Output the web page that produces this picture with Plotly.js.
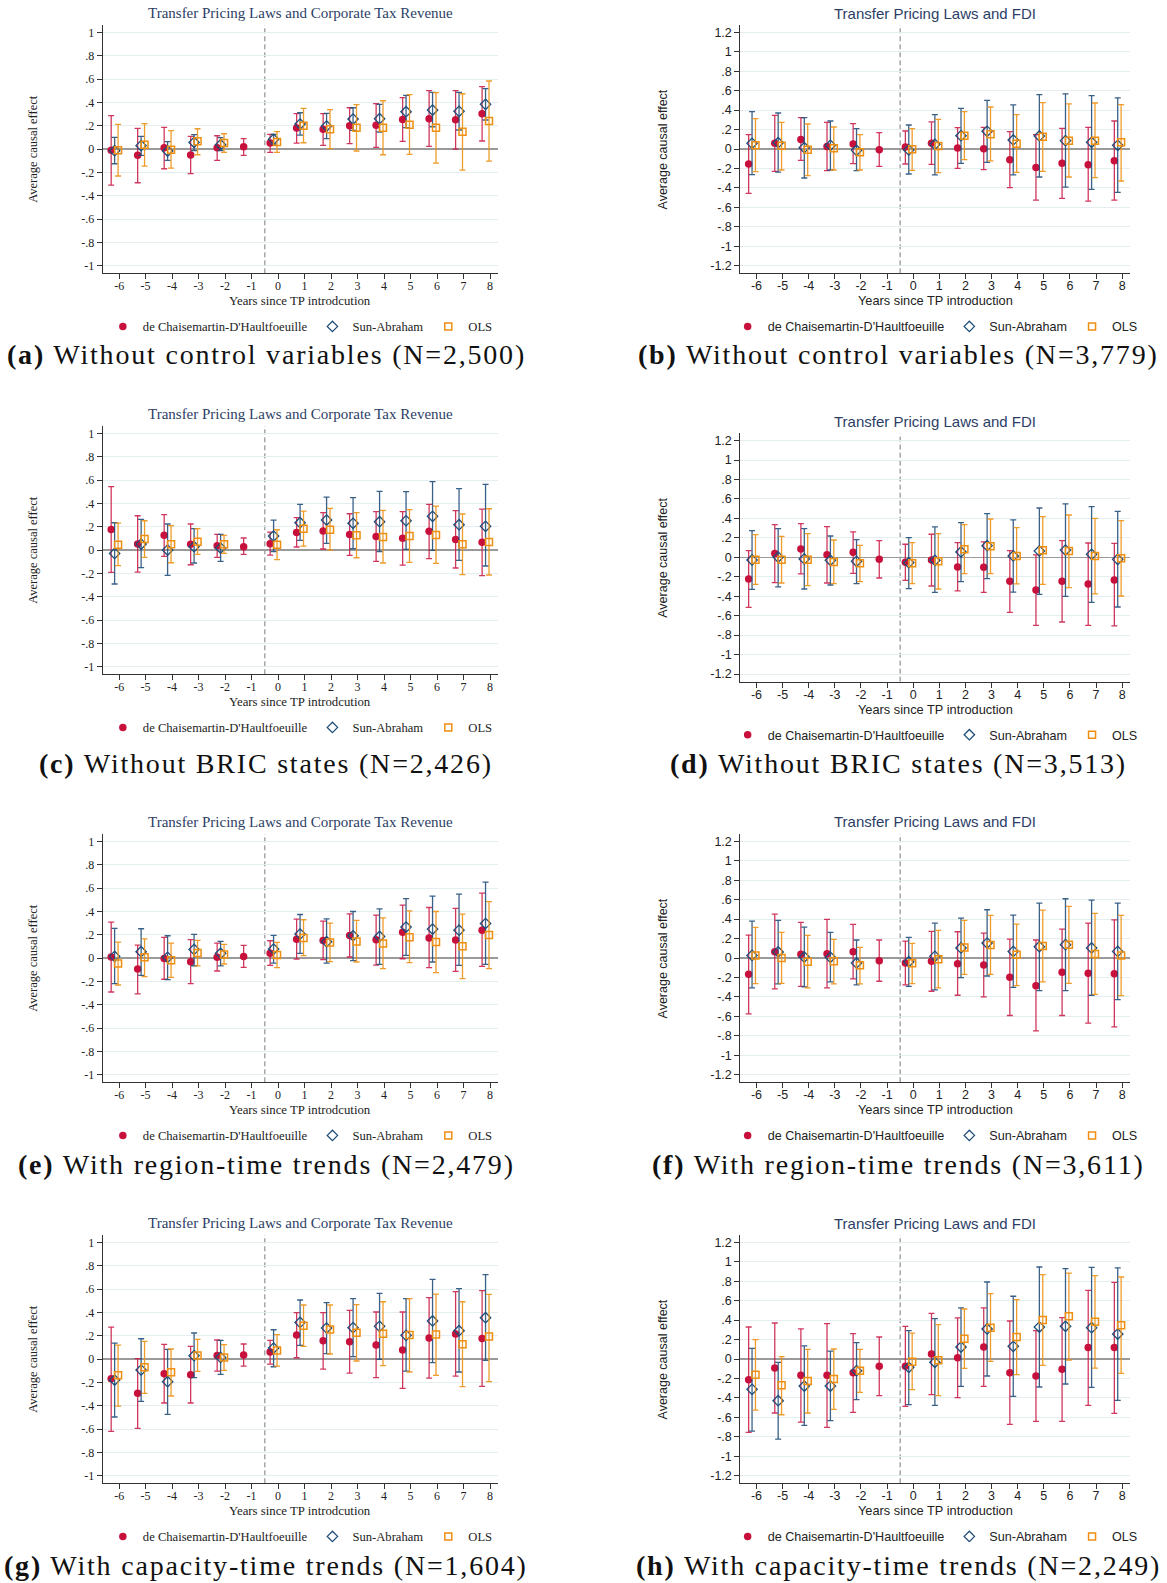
<!DOCTYPE html>
<html><head><meta charset="utf-8">
<script src="https://cdn.plot.ly/plotly-3.0.1.min.js"></script>
<style>html,body{margin:0;padding:0;background:#fff}#chart{width:1167px;height:1583px}</style>
</head><body><div id="chart"></div>
<script>
// ---------------- DATA ----------------
const yearsDCDH = [-6,-5,-4,-3,-2,-1,0,1,2,3,4,5,6,7,8];
const yearsOther = [-6,-5,-4,-3,-2,0,1,2,3,4,5,6,7,8];
const xTickText = ['-6','-5','-4','-3','-2','-1','0','1','2','3','4','5','6','7','8'];
const taxTicks = [-1,-0.8,-0.6,-0.4,-0.2,0,0.2,0.4,0.6,0.8,1];
const taxTickText = ['-1','-.8','-.6','-.4','-.2','0','.2','.4','.6','.8','1'];
const fdiTicks = [-1.2,-1,-0.8,-0.6,-0.4,-0.2,0,0.2,0.4,0.6,0.8,1,1.2];
const fdiTickText = ['-1.2','-1','-.8','-.6','-.4','-.2','0','.2','.4','.6','.8','1','1.2'];
const seriesNames = ["de Chaisemartin-D'Haultfoeuille", 'Sun-Abraham', 'OLS'];
const taxTitle = 'Transfer Pricing Laws and Corporate Tax Revenue';
const fdiTitle = 'Transfer Pricing Laws and FDI';
const taxXTitle = 'Years since TP introdcution';
const fdiXTitle = 'Years since TP introduction';
const yTitle = 'Average causal effect';
const treatmentLine = -0.5;

// (a)
const a_dcdh_est = [-0.01,-0.054,0.011,-0.051,0.011,0.02,0.051,0.18,0.169,0.2,0.203,0.254,0.26,0.251,0.303];
const a_dcdh_lo = [-0.31,-0.289,-0.169,-0.211,-0.097,-0.054,-0.029,0.051,0.031,0.046,0.014,0.066,0.023,0.0,0.069];
const a_dcdh_hi = [0.286,0.177,0.186,0.109,0.114,0.089,0.126,0.303,0.303,0.354,0.389,0.44,0.5,0.5,0.534];
const a_sa_est = [-0.014,0.029,-0.017,0.057,0.037,0.083,0.214,0.197,0.257,0.26,0.32,0.334,0.323,0.383];
const a_sa_lo = [-0.126,-0.054,-0.097,-0.014,-0.014,0.043,0.12,0.089,0.16,0.146,0.183,0.191,0.163,0.249];
const a_sa_hi = [0.1,0.109,0.063,0.123,0.097,0.126,0.311,0.306,0.354,0.383,0.46,0.486,0.486,0.517];
const a_ols_est = [-0.011,0.037,-0.006,0.066,0.051,0.06,0.2,0.169,0.183,0.183,0.209,0.183,0.149,0.24];
const a_ols_lo = [-0.231,-0.146,-0.163,-0.049,-0.029,-0.029,0.054,0.003,-0.017,-0.049,-0.046,-0.12,-0.18,-0.103];
const a_ols_hi = [0.211,0.217,0.157,0.174,0.131,0.149,0.349,0.337,0.38,0.414,0.466,0.483,0.474,0.583];
// (b)
const b_dcdh_est = [-0.154,0.058,0.099,0.027,0.051,-0.007,0.021,0.058,0.01,0.003,-0.11,-0.189,-0.147,-0.161,-0.12];
const b_dcdh_lo = [-0.456,-0.23,-0.117,-0.223,-0.151,-0.178,-0.154,-0.158,-0.199,-0.213,-0.398,-0.525,-0.507,-0.535,-0.525];
const b_dcdh_hi = [0.147,0.346,0.322,0.274,0.26,0.168,0.185,0.278,0.219,0.223,0.178,0.147,0.213,0.223,0.288];
const b_sa_est = [0.058,0.065,0.014,0.038,-0.014,-0.01,0.048,0.137,0.182,0.093,0.134,0.086,0.069,0.038];
const b_sa_lo = [-0.264,-0.237,-0.298,-0.216,-0.223,-0.257,-0.267,-0.147,-0.137,-0.267,-0.288,-0.391,-0.415,-0.446];
const b_sa_hi = [0.384,0.37,0.322,0.288,0.209,0.247,0.353,0.418,0.5,0.453,0.559,0.566,0.549,0.525];
const b_ols_est = [0.038,0.034,-0.007,0.007,-0.034,-0.003,0.031,0.137,0.151,0.055,0.127,0.086,0.086,0.069];
const b_ols_lo = [-0.233,-0.216,-0.274,-0.216,-0.216,-0.219,-0.243,-0.11,-0.123,-0.24,-0.23,-0.288,-0.295,-0.329];
const b_ols_hi = [0.312,0.274,0.257,0.226,0.147,0.209,0.305,0.384,0.432,0.353,0.477,0.463,0.473,0.456];
// (c)
const c_dcdh_est = [0.177,0.051,0.126,0.049,0.037,0.029,0.054,0.151,0.163,0.134,0.117,0.1,0.16,0.091,0.066];
const c_dcdh_lo = [-0.191,-0.189,-0.054,-0.126,-0.063,-0.037,-0.043,0.026,0.009,-0.046,-0.097,-0.129,-0.074,-0.154,-0.22];
const c_dcdh_hi = [0.543,0.294,0.303,0.223,0.134,0.103,0.154,0.277,0.32,0.311,0.329,0.329,0.391,0.337,0.351];
const c_sa_est = [-0.029,0.051,0.0,0.029,0.017,0.12,0.234,0.257,0.229,0.243,0.251,0.289,0.217,0.203];
const c_sa_lo = [-0.291,-0.151,-0.217,-0.111,-0.097,-0.014,0.083,0.057,0.011,-0.014,0.006,-0.003,-0.089,-0.137];
const c_sa_hi = [0.234,0.263,0.223,0.183,0.134,0.257,0.391,0.454,0.449,0.503,0.5,0.586,0.526,0.563];
const c_ols_est = [0.046,0.094,0.049,0.071,0.049,0.046,0.183,0.174,0.126,0.111,0.12,0.129,0.049,0.069];
const c_ols_lo = [-0.134,-0.063,-0.109,-0.037,-0.029,-0.083,0.034,0.0,-0.066,-0.111,-0.106,-0.114,-0.211,-0.214];
const c_ols_hi = [0.231,0.251,0.209,0.183,0.126,0.174,0.334,0.357,0.32,0.34,0.346,0.377,0.309,0.354];
// (d)
const d_dcdh_est = [-0.223,0.038,0.086,0.027,0.051,-0.021,-0.051,-0.027,-0.099,-0.103,-0.247,-0.336,-0.247,-0.274,-0.233];
const d_dcdh_lo = [-0.514,-0.261,-0.171,-0.264,-0.165,-0.213,-0.237,-0.295,-0.346,-0.36,-0.566,-0.699,-0.665,-0.699,-0.706];
const d_dcdh_hi = [0.069,0.336,0.346,0.315,0.261,0.171,0.134,0.237,0.151,0.158,0.069,0.024,0.171,0.147,0.144];
const d_sa_est = [-0.027,0.003,-0.017,-0.031,-0.041,-0.055,-0.031,0.055,0.12,0.014,0.065,0.075,0.031,-0.021];
const d_sa_lo = [-0.329,-0.305,-0.326,-0.285,-0.271,-0.322,-0.36,-0.25,-0.219,-0.357,-0.381,-0.401,-0.463,-0.511];
const d_sa_hi = [0.274,0.295,0.295,0.219,0.182,0.202,0.312,0.357,0.449,0.384,0.507,0.549,0.521,0.473];
const d_ols_est = [-0.024,-0.024,-0.024,-0.048,-0.062,-0.062,-0.041,0.082,0.113,0.014,0.072,0.065,0.014,-0.01];
const d_ols_lo = [-0.278,-0.264,-0.291,-0.271,-0.25,-0.271,-0.326,-0.168,-0.168,-0.274,-0.278,-0.312,-0.377,-0.398];
const d_ols_hi = [0.233,0.216,0.243,0.178,0.123,0.151,0.243,0.336,0.394,0.305,0.418,0.435,0.401,0.377];
// (e)
const e_dcdh_est = [0.009,-0.094,-0.003,-0.031,0.006,0.014,0.04,0.162,0.151,0.194,0.157,0.222,0.171,0.154,0.239];
const e_dcdh_lo = [-0.291,-0.308,-0.182,-0.219,-0.111,-0.08,-0.063,-0.009,-0.014,0.009,-0.06,-0.006,-0.083,-0.114,-0.071];
const e_dcdh_hi = [0.308,0.111,0.177,0.157,0.128,0.108,0.148,0.333,0.316,0.379,0.368,0.453,0.433,0.425,0.556];
const e_sa_est = [0.014,0.054,0.006,0.074,0.04,0.077,0.205,0.14,0.191,0.185,0.265,0.248,0.239,0.296];
const e_sa_lo = [-0.219,-0.148,-0.185,-0.066,-0.068,-0.043,0.04,-0.043,-0.023,-0.054,0.023,-0.034,-0.063,-0.054];
const e_sa_hi = [0.254,0.251,0.191,0.202,0.142,0.194,0.373,0.336,0.399,0.422,0.51,0.53,0.547,0.65];
const e_ols_est = [-0.046,0.006,-0.02,0.043,0.031,0.026,0.171,0.134,0.142,0.125,0.179,0.137,0.1,0.197];
const e_ols_lo = [-0.231,-0.16,-0.165,-0.068,-0.051,-0.083,0.02,-0.031,-0.034,-0.091,-0.04,-0.125,-0.177,-0.091];
const e_ols_hi = [0.137,0.165,0.128,0.151,0.117,0.134,0.328,0.299,0.322,0.345,0.405,0.399,0.376,0.484];
// (f)
const f_dcdh_est = [-0.168,0.065,0.038,0.044,0.065,-0.027,-0.051,-0.034,-0.058,-0.072,-0.198,-0.284,-0.147,-0.157,-0.161];
const f_dcdh_lo = [-0.574,-0.318,-0.291,-0.308,-0.215,-0.239,-0.277,-0.342,-0.383,-0.4,-0.591,-0.749,-0.591,-0.67,-0.708];
const f_dcdh_hi = [0.236,0.451,0.366,0.397,0.345,0.185,0.174,0.274,0.27,0.256,0.195,0.185,0.297,0.359,0.393];
const f_sa_est = [0.027,0.062,0.01,0.007,-0.051,-0.038,0.017,0.103,0.154,0.068,0.116,0.137,0.103,0.068];
const f_sa_lo = [-0.308,-0.267,-0.297,-0.246,-0.277,-0.291,-0.328,-0.202,-0.185,-0.301,-0.335,-0.335,-0.383,-0.427];
const f_sa_hi = [0.379,0.386,0.318,0.263,0.185,0.212,0.359,0.41,0.496,0.441,0.564,0.609,0.595,0.564];
const f_ols_est = [0.027,0.0,-0.038,-0.034,-0.075,-0.055,-0.014,0.109,0.133,0.034,0.123,0.137,0.041,0.027];
const f_ols_lo = [-0.263,-0.26,-0.308,-0.267,-0.267,-0.263,-0.308,-0.168,-0.168,-0.284,-0.246,-0.26,-0.373,-0.386];
const f_ols_hi = [0.315,0.263,0.232,0.191,0.109,0.15,0.284,0.386,0.438,0.349,0.492,0.53,0.458,0.438];
// (g)
const g_dcdh_est = [-0.169,-0.294,-0.126,-0.134,0.031,0.034,0.06,0.206,0.157,0.149,0.12,0.077,0.18,0.214,0.177];
const g_dcdh_lo = [-0.62,-0.594,-0.377,-0.377,-0.103,-0.06,-0.043,0.011,-0.086,-0.12,-0.16,-0.251,-0.163,-0.146,-0.234];
const g_dcdh_hi = [0.274,0.003,0.126,0.109,0.163,0.129,0.16,0.397,0.397,0.417,0.403,0.403,0.526,0.577,0.586];
const g_sa_est = [-0.18,-0.094,-0.194,0.029,0.014,0.094,0.314,0.266,0.269,0.28,0.203,0.326,0.243,0.354];
const g_sa_lo = [-0.497,-0.363,-0.474,-0.16,-0.131,-0.066,0.117,0.046,0.02,-0.003,-0.103,-0.031,-0.111,-0.011];
const g_sa_hi = [0.137,0.174,0.083,0.223,0.16,0.251,0.506,0.483,0.517,0.563,0.517,0.683,0.603,0.723];
const g_ols_est = [-0.14,-0.071,-0.114,0.031,0.014,0.074,0.286,0.254,0.226,0.217,0.206,0.211,0.126,0.194];
const g_ols_lo = [-0.403,-0.294,-0.317,-0.106,-0.097,-0.06,0.109,0.043,-0.017,-0.057,-0.111,-0.14,-0.237,-0.194];
const g_ols_hi = [0.12,0.151,0.086,0.169,0.123,0.209,0.463,0.463,0.466,0.491,0.517,0.557,0.491,0.554];
// (h)
const h_dcdh_est = [-0.213,-0.093,-0.168,-0.168,-0.141,-0.075,-0.075,0.051,0.014,0.123,-0.141,-0.175,-0.106,0.117,0.117];
const h_dcdh_lo = [-0.754,-0.555,-0.648,-0.703,-0.549,-0.377,-0.487,-0.367,-0.398,-0.281,-0.672,-0.641,-0.641,-0.477,-0.559];
const h_dcdh_hi = [0.329,0.37,0.309,0.363,0.261,0.226,0.336,0.47,0.422,0.525,0.391,0.291,0.425,0.706,0.788];
const h_sa_est = [-0.312,-0.429,-0.278,-0.278,-0.12,-0.086,-0.034,0.123,0.309,0.13,0.329,0.336,0.322,0.257];
const h_sa_lo = [-0.741,-0.823,-0.682,-0.634,-0.418,-0.47,-0.477,-0.281,-0.175,-0.384,-0.288,-0.257,-0.291,-0.425];
const h_sa_hi = [0.11,-0.034,0.134,0.082,0.168,0.291,0.415,0.525,0.792,0.645,0.946,0.929,0.943,0.936];
const h_ols_est = [-0.161,-0.271,-0.226,-0.206,-0.12,-0.027,-0.014,0.209,0.322,0.226,0.401,0.439,0.384,0.346];
const h_ols_lo = [-0.525,-0.573,-0.555,-0.518,-0.343,-0.315,-0.377,-0.096,-0.024,-0.161,-0.065,-0.01,-0.093,-0.147];
const h_ols_hi = [0.199,0.024,0.099,0.103,0.099,0.267,0.353,0.514,0.672,0.61,0.867,0.884,0.857,0.843];

const captions = [
  ['(a)','Without control variables (N=2,500)'],
  ['(b)','Without control variables (N=3,779)'],
  ['(c)','Without BRIC states (N=2,426)'],
  ['(d)','Without BRIC states (N=3,513)'],
  ['(e)','With region-time trends (N=2,479)'],
  ['(f)','With region-time trends (N=3,611)'],
  ['(g)','With capacity-time trends (N=1,604)'],
  ['(h)','With capacity-time trends (N=2,249)']
];

// ---------------- LAYOUT / STYLE ----------------
const W = 1167, H = 1583;
const COLS = [{x0:102.7, x1:498, center:266}, {x0:740.3, x1:1130, center:898}];
const PLOT_H = 248.3;
const SERIF = 'Liberation Serif, Times New Roman, serif';
const SANS = 'Liberation Sans, Arial, Helvetica, sans-serif';
const OFFSETS = [-0.3, -0.17, -0.04];
const STY = [
  {marker:{symbol:'circle', size:7.5, color:'#c8103c'}, bar:'rgba(200,20,65,0.85)'},
  {marker:{symbol:'diamond-open', size:8, color:'#1f4e7a', line:{width:1.3}}, bar:'rgba(30,75,120,0.88)'},
  {marker:{symbol:'square-open', size:7, color:'#ee8f12', line:{width:1.5}}, bar:'rgba(238,145,20,0.9)'}
];

const panels = [
  {col:0, top:25,    kind:'tax', capY:354,  s:[[a_dcdh_est,a_dcdh_lo,a_dcdh_hi],[a_sa_est,a_sa_lo,a_sa_hi],[a_ols_est,a_ols_lo,a_ols_hi]]},
  {col:1, top:25,    kind:'fdi', capY:354,  s:[[b_dcdh_est,b_dcdh_lo,b_dcdh_hi],[b_sa_est,b_sa_lo,b_sa_hi],[b_ols_est,b_ols_lo,b_ols_hi]]},
  {col:0, top:426,   kind:'tax', capY:763,  s:[[c_dcdh_est,c_dcdh_lo,c_dcdh_hi],[c_sa_est,c_sa_lo,c_sa_hi],[c_ols_est,c_ols_lo,c_ols_hi]]},
  {col:1, top:433.3, kind:'fdi', capY:763,  s:[[d_dcdh_est,d_dcdh_lo,d_dcdh_hi],[d_sa_est,d_sa_lo,d_sa_hi],[d_ols_est,d_ols_lo,d_ols_hi]]},
  {col:0, top:834,   kind:'tax', capY:1164, s:[[e_dcdh_est,e_dcdh_lo,e_dcdh_hi],[e_sa_est,e_sa_lo,e_sa_hi],[e_ols_est,e_ols_lo,e_ols_hi]]},
  {col:1, top:834,   kind:'fdi', capY:1164, s:[[f_dcdh_est,f_dcdh_lo,f_dcdh_hi],[f_sa_est,f_sa_lo,f_sa_hi],[f_ols_est,f_ols_lo,f_ols_hi]]},
  {col:0, top:1235,  kind:'tax', capY:1565, s:[[g_dcdh_est,g_dcdh_lo,g_dcdh_hi],[g_sa_est,g_sa_lo,g_sa_hi],[g_ols_est,g_ols_lo,g_ols_hi]]},
  {col:1, top:1235,  kind:'fdi', capY:1565, s:[[h_dcdh_est,h_dcdh_lo,h_dcdh_hi],[h_sa_est,h_sa_lo,h_sa_hi],[h_ols_est,h_ols_lo,h_ols_hi]]}
];

const traces = [];
const layout = {
  width: W, height: H, margin:{l:0,r:0,t:0,b:0},
  paper_bgcolor:'#ffffff', plot_bgcolor:'#ffffff',
  showlegend: true, annotations: [], shapes: []
};

panels.forEach((p, i) => {
  const n = i + 1;
  const sfx = n === 1 ? '' : String(n);
  const xa = 'x' + sfx, ya = 'y' + sfx;
  const legName = 'legend' + sfx;
  const tax = p.kind === 'tax';
  const fam = tax ? SERIF : SANS;
  const col = COLS[p.col];
  const bottom = p.top + PLOT_H;

  p.s.forEach((ser, k) => {
    const [est, lo, hi] = ser;
    const yrs = k === 0 ? yearsDCDH : yearsOther;
    traces.push({
      type:'scatter', mode:'markers',
      x: yrs.map(t => t + OFFSETS[k]), y: est,
      xaxis: xa, yaxis: ya, legend: legName,
      name: seriesNames[k], showlegend: true,
      marker: STY[k].marker,
      error_y: {type:'data', symmetric:false,
        array: hi.map((h, j) => h - est[j]),
        arrayminus: lo.map((l, j) => est[j] - l),
        color: STY[k].bar, thickness: 1.3, width: 3},
      cliponaxis: false
    });
  });

  layout['xaxis' + sfx] = {
    domain:[col.x0 / W, col.x1 / W], anchor: ya,
    range:[-6.62, 8.3], tickmode:'array', tickvals: yearsDCDH, ticktext: xTickText,
    showgrid:false, zeroline:false, showline:true, linecolor:'#333', linewidth:1,
    ticks:'outside', ticklen:5, tickcolor:'#333', tickwidth:1, ticklabelstandoff:-4,
    tickfont:{family:fam, size: tax ? 12 : 12.5, color:'#222'}, fixedrange:true
  };
  layout['yaxis' + sfx] = {
    domain:[1 - bottom / H, 1 - p.top / H], anchor: xa,
    range: tax ? [-1.065, 1.063] : [-1.278, 1.275],
    tickmode:'array', tickvals: tax ? taxTicks : fdiTicks, ticktext: tax ? taxTickText : fdiTickText,
    showgrid:true, gridcolor:'#e4eef0', gridwidth:1,
    zeroline:true, zerolinecolor:'#9a9a9a', zerolinewidth:1.5,
    showline:true, linecolor:'#333', linewidth:1,
    ticks:'outside', ticklen:5, tickcolor:'#333', tickwidth:1,
    tickfont:{family:fam, size: tax ? 12 : 12.5, color:'#222'}, fixedrange:true
  };

  layout[legName] = {
    orientation:'h', xref:'paper', yref:'paper',
    x: ((col.x0 + col.x1) / 2) / W, xanchor:'center',
    y: 1 - (bottom + 53.4) / H, yanchor:'middle',
    bgcolor:'rgba(0,0,0,0)', borderwidth:0,
    font:{family:fam, size:12.6, color:'#222'},
    itemwidth:30, traceorder:'normal'
  };

  layout.shapes.push({
    type:'line', xref: xa, yref: ya + ' domain', x0: treatmentLine, x1: treatmentLine, y0:0, y1:1,
    line:{color:'#7a7a7a', width:1, dash:'5px,3px'}, layer:'below'
  });

  const ann = layout.annotations;
  ann.push({xref: xa + ' domain', yref: ya + ' domain', x:0.5, y:1, yshift:12,
    xanchor:'center', yanchor:'middle', showarrow:false,
    text: tax ? taxTitle : fdiTitle,
    font:{family:fam, size:15, color:'#2c3e66'}});
  ann.push({xref: xa + ' domain', yref: ya + ' domain', x:0.5, y:0, yshift:-27.5,
    xanchor:'center', yanchor:'middle', showarrow:false,
    text: tax ? taxXTitle : fdiXTitle,
    font:{family:fam, size:12.8, color:'#222'}});
  ann.push({xref: xa + ' domain', yref: ya + ' domain', x:0, y:0.5, xshift: tax ? -70 : -77,
    xanchor:'center', yanchor:'middle', textangle:-90, showarrow:false,
    text: yTitle, font:{family:fam, size:12.5, color:'#222'}});
  ann.push({xref:'paper', yref:'paper', x: col.center / W, y: 1 - p.capY / H,
    xanchor:'center', yanchor:'middle', showarrow:false,
    text: '<span style="letter-spacing:1.8px"><b>' + captions[i][0] + '</b> ' + captions[i][1] + '</span>',
    font:{family:SERIF, size:28, color:'#111'}});
});

Plotly.newPlot('chart', traces, layout, {displayModeBar:false, staticPlot:true});
</script>
</body></html>
